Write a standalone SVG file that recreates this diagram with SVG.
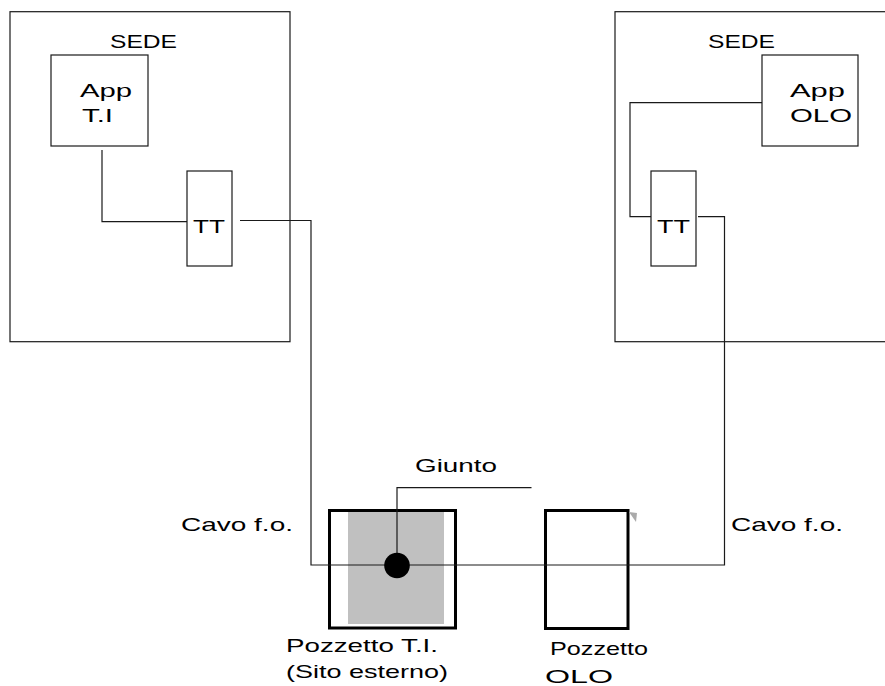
<svg xmlns="http://www.w3.org/2000/svg" width="885" height="686" viewBox="0 0 885 686">
<style>
.box{fill:none;stroke:#1a1a1a;stroke-width:1.2}
.thick{fill:none;stroke:#000;stroke-width:3}
.wire{fill:none;stroke:#1a1a1a;stroke-width:1.2}
.t{font-family:"Liberation Sans",Arial,sans-serif;font-size:19px;fill:#000}
</style>
<rect width="885" height="686" fill="#fff"/>
<g id="sede-ti">
<rect class="box" x="10" y="11.7" width="280" height="330"/>
<text class="t" x="110" y="48" textLength="67" lengthAdjust="spacingAndGlyphs">SEDE</text>
</g>
<g id="app-ti">
<rect class="box" x="51" y="55" width="97" height="91"/>
<text class="t" x="80" y="97" textLength="52" lengthAdjust="spacingAndGlyphs">App</text>
<text class="t" x="82" y="122" textLength="31" lengthAdjust="spacingAndGlyphs">T.I</text>
</g>
<g id="tt-ti">
<rect class="box" x="187" y="171" width="45" height="95"/>
<text class="t" x="193" y="233" textLength="32" lengthAdjust="spacingAndGlyphs">TT</text>
</g>
<g id="sede-olo">
<rect class="box" x="615" y="11.7" width="290" height="330"/>
<text class="t" x="708" y="48" textLength="67" lengthAdjust="spacingAndGlyphs">SEDE</text>
</g>
<g id="app-olo">
<rect class="box" x="762" y="55" width="96" height="91"/>
<text class="t" x="790" y="97" textLength="55" lengthAdjust="spacingAndGlyphs">App</text>
<text class="t" x="790" y="122" textLength="62" lengthAdjust="spacingAndGlyphs">OLO</text>
</g>
<g id="tt-olo">
<rect class="box" x="651" y="171" width="45" height="95"/>
<text class="t" x="657" y="233" textLength="33" lengthAdjust="spacingAndGlyphs">TT</text>
</g>
<g id="pozzetto-ti">
<rect x="348" y="512" width="96" height="112" fill="#c0c0c0"/>
<rect class="thick" x="329.5" y="510.5" width="126" height="117.5"/>
<text class="t" x="286" y="652" textLength="152" lengthAdjust="spacingAndGlyphs">Pozzetto T.I.</text>
<text class="t" x="286" y="678" textLength="162" lengthAdjust="spacingAndGlyphs">(Sito esterno)</text>
</g>
<g id="pozzetto-olo">
<rect class="thick" x="545.5" y="510.5" width="82.5" height="118"/>
<polygon points="629,512 637,513 636,522" fill="#aaa"/>
<text class="t" x="550" y="655" textLength="98" lengthAdjust="spacingAndGlyphs">Pozzetto</text>
<text class="t" x="545" y="683" textLength="68" lengthAdjust="spacingAndGlyphs">OLO</text>
</g>
<g id="connectors">
<polyline class="wire" points="102,150 102,221.7 187,221.7"/>
<polyline class="wire" points="240,220.5 311,220.5 311,565 724.5,565 724.5,216.7 698,216.7"/>
<polyline class="wire" points="762,102.7 630,102.7 630,216.7 651,216.7"/>
<polyline class="wire" points="397,565 397,487.7 531.5,487.7"/>
</g>
<g id="giunto">
<circle cx="397" cy="565.5" r="12.8" fill="#000"/>
<text class="t" x="415" y="472" textLength="82" lengthAdjust="spacingAndGlyphs">Giunto</text>
</g>
<g id="labels">
<text class="t" x="181" y="531" textLength="112" lengthAdjust="spacingAndGlyphs">Cavo f.o.</text>
<text class="t" x="731" y="531" textLength="112" lengthAdjust="spacingAndGlyphs">Cavo f.o.</text>
</g>
</svg>
